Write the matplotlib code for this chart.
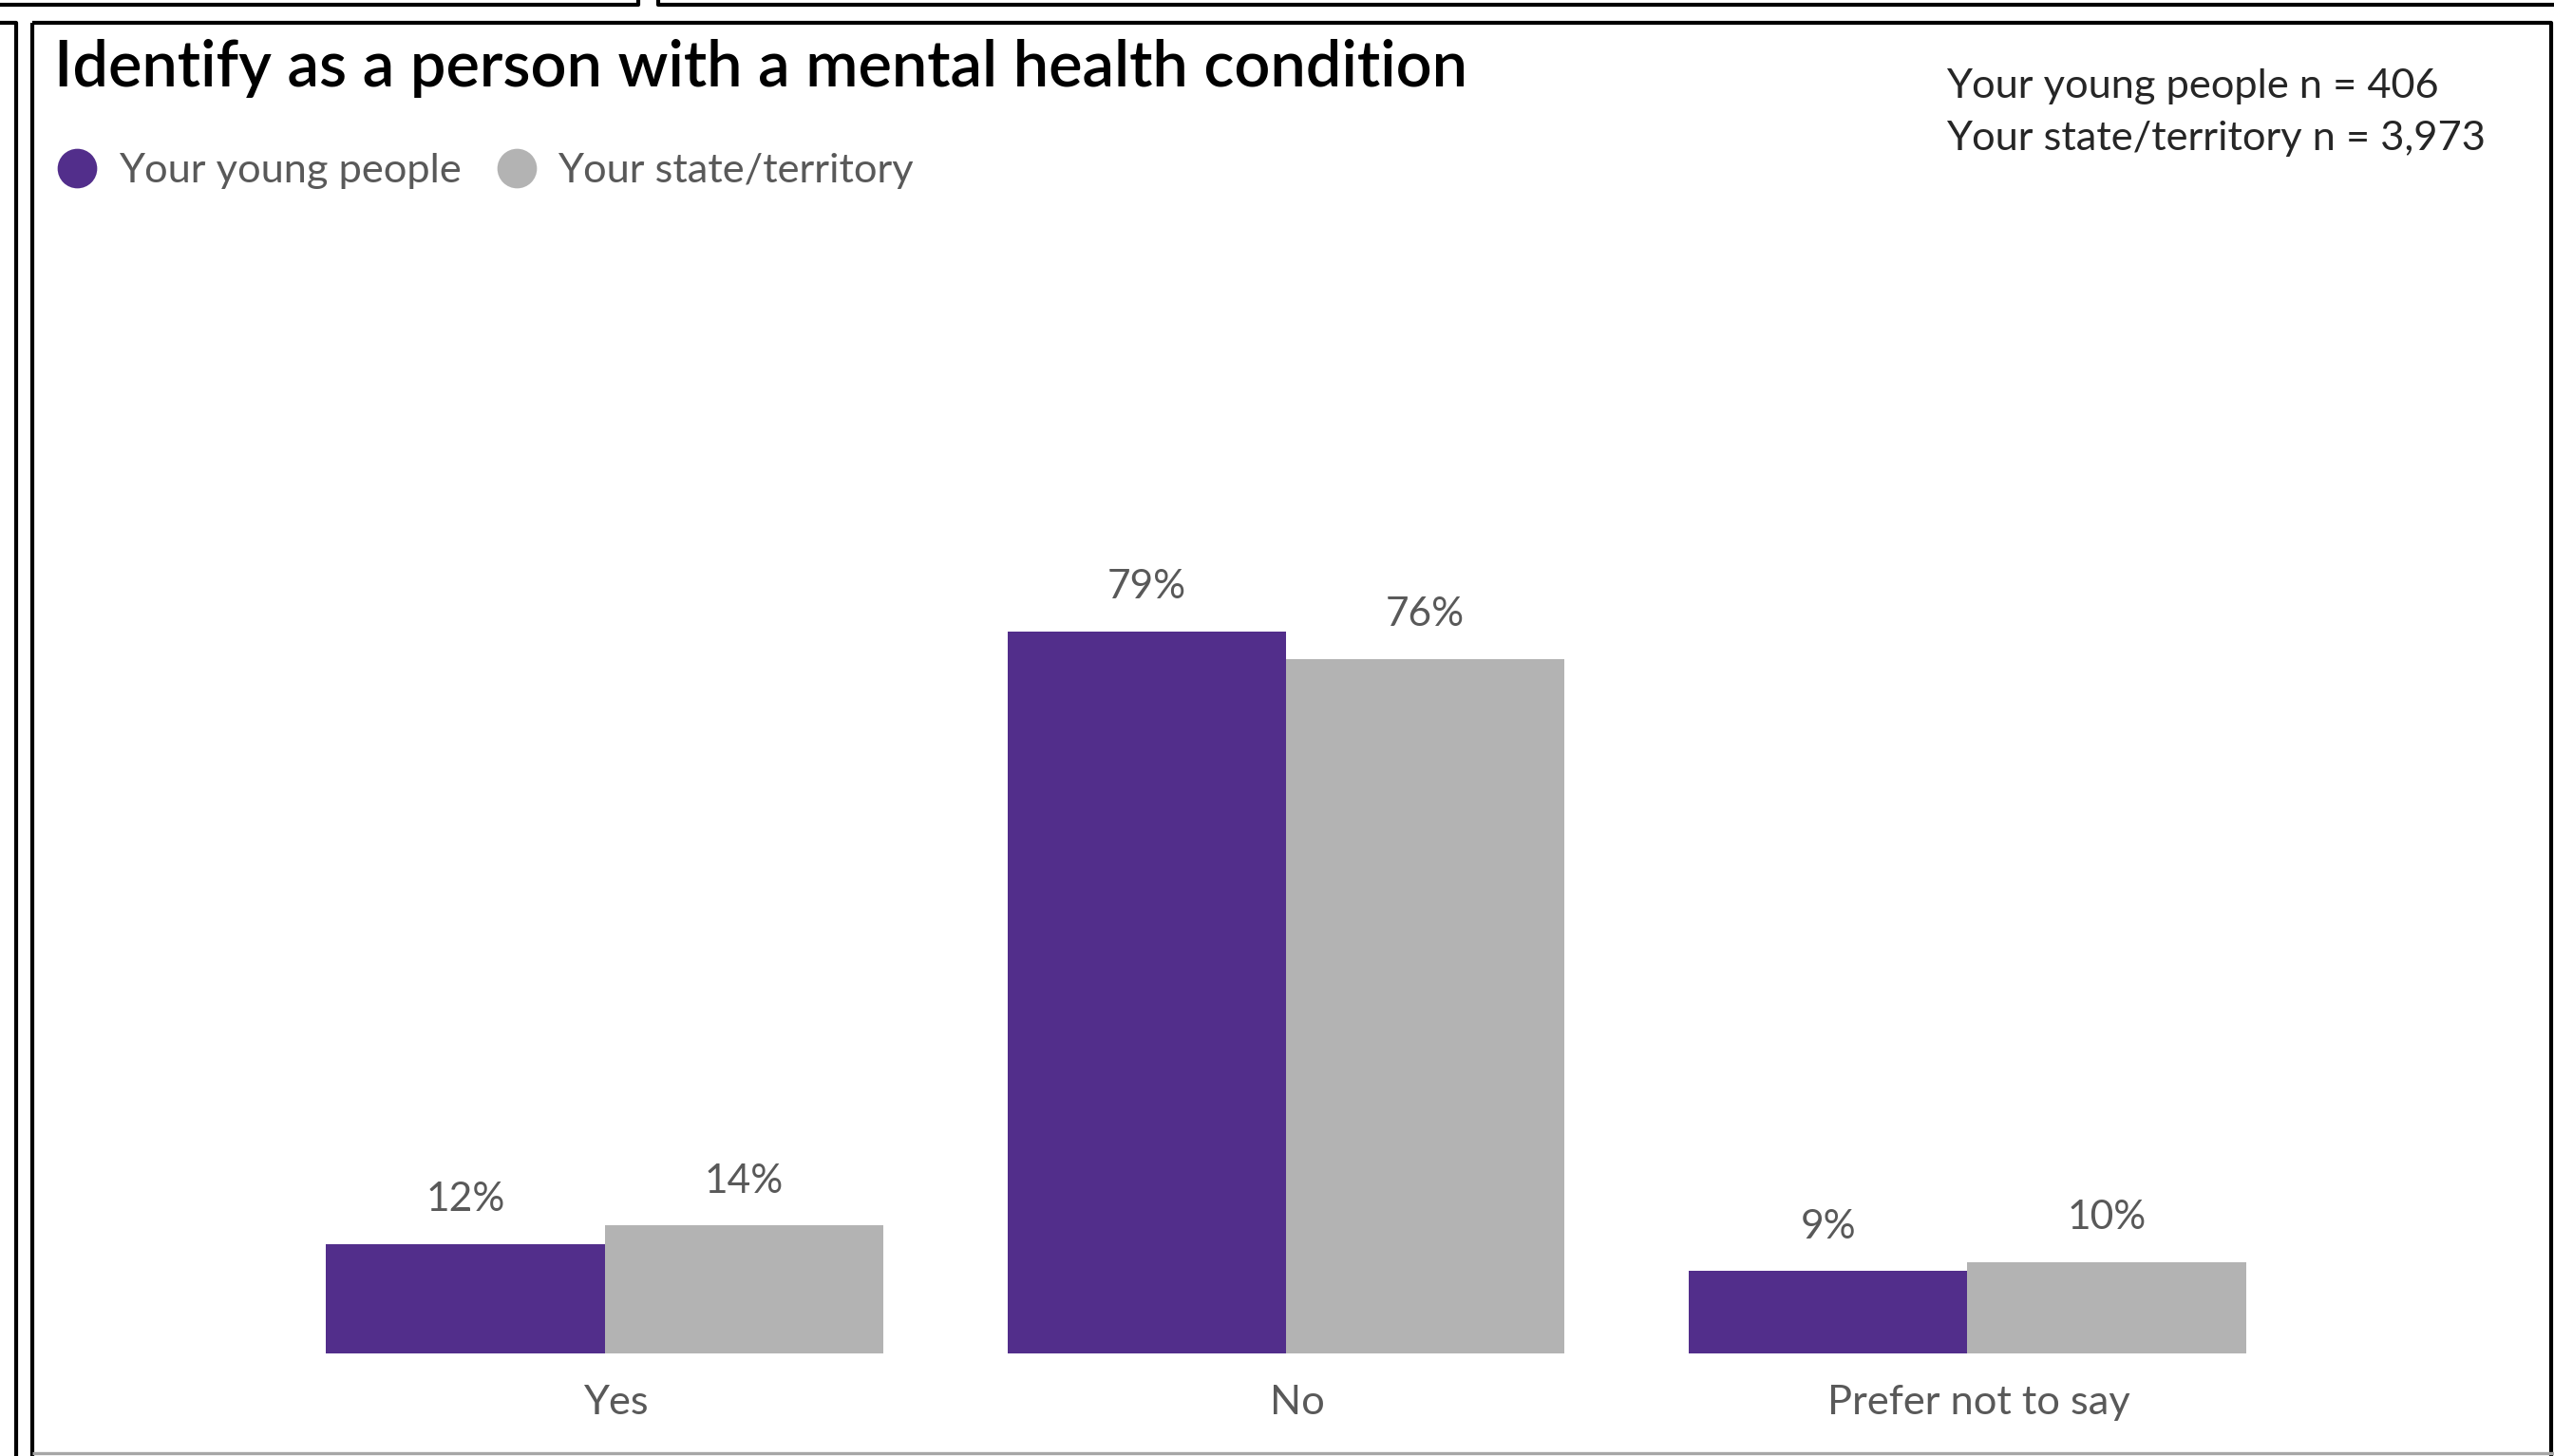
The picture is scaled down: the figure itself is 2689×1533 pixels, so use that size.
import matplotlib
matplotlib.use("Agg")
import numpy as np
import matplotlib.pyplot as plt
import matplotlib.transforms as mtransforms
from matplotlib.lines import Line2D

# =========================
# Data
# =========================
CATEGORIES = ["Yes", "No", "Prefer not to say"]
YOUNG_PEOPLE = [12, 79, 9]
STATE_TERRITORY = [14, 76, 10]
SERIES_NAMES = ["Your young people", "Your state/territory"]
N_YOUNG = "406"
N_STATE = "3,973"
TITLE = "Identify as a person with a mental health condition"

PURPLE = "#522E8B"
GREY = "#B3B3B3"
TEXT_GREY = "#595959"

W, H = 1568, 894  # layout reference grid


def fx(x):
    return x / W


def fy(y):
    return 1 - y / H


def frame_line(fig, xs, ys, color="black", lw=1.5):
    fig.add_artist(Line2D([fx(x) for x in xs], [fy(y) for y in ys],
                          color=color, lw=lw, transform=fig.transFigure,
                          solid_capstyle="butt"))


def main():
    plt.rcParams["font.family"] = ["Lato", "DejaVu Sans"]
    fig = plt.figure(figsize=(13.445, 7.665), dpi=200)

    # panel frames (dashboard screenshot borders)
    frame_line(fig, [0, 392, 392], [3, 3, -5])
    frame_line(fig, [404, 404, 1568], [-5, 3, 3])
    frame_line(fig, [0, 10, 10], [14, 14, 900])
    frame_line(fig, [20, 20], [900, 14])
    frame_line(fig, [20, 1566, 1566], [14, 14, 900])
    frame_line(fig, [20, 1568], [892, 892], color="#A6A6A6", lw=1.2)

    ax = fig.add_axes([fx(162), fy(831), fx(1417) - fx(162), fy(270) - fy(831)])
    x = np.arange(len(CATEGORIES))
    width = 0.409

    b1 = ax.bar(x - width / 2, YOUNG_PEOPLE, width, color=PURPLE)
    b2 = ax.bar(x + width / 2, STATE_TERRITORY, width, color=GREY)
    for bars in (b1, b2):
        ax.bar_label(bars, fmt="{:.0f}%", padding=10, fontsize=15.3, color=TEXT_GREY)

    ax.set_xlim(-0.5, 2.5)
    ax.set_ylim(0, 100)
    ax.set_xticks(x)
    ax.set_xticklabels(CATEGORIES, fontsize=15.6, color=TEXT_GREY)
    ax.tick_params(axis="x", length=0, pad=12)
    shift = mtransforms.ScaledTranslation(4.3 / 72, 0, fig.dpi_scale_trans)
    for lbl in ax.get_xticklabels():
        lbl.set_transform(lbl.get_transform() + shift)
    ax.set_yticks([])
    for spine in ax.spines.values():
        spine.set_visible(False)

    fig.text(fx(33), fy(42), TITLE, fontsize=24, fontweight="semibold",
             color="black", va="center", ha="left")

    fig.text(fx(1195), fy(53), f"Your young people n = {N_YOUNG}",
             fontsize=15.6, color="#262626", va="center", ha="left")
    fig.text(fx(1195), fy(85), f"Your state/territory n = {N_STATE}",
             fontsize=15.6, color="#262626", va="center", ha="left")

    handles = [
        Line2D([], [], marker="o", ls="", markersize=14, color=PURPLE),
        Line2D([], [], marker="o", ls="", markersize=14, color=GREY),
    ]
    fig.legend(handles, SERIES_NAMES, loc="center left",
               bbox_to_anchor=(fx(12), fy(105)), ncol=2, frameon=False,
               fontsize=15.6, labelcolor=TEXT_GREY, handletextpad=0.5,
               columnspacing=0.85, handlelength=1.0)

    fig.savefig("out.png", dpi=200, facecolor="white")


if __name__ == "__main__":
    main()
